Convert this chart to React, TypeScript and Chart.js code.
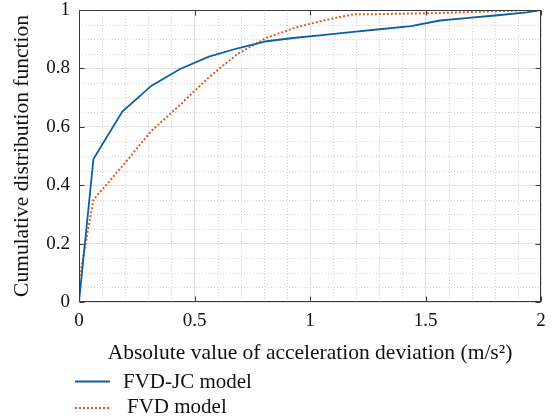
import React, { useEffect, useRef } from 'react';
import { Chart, registerables } from 'chart.js';

Chart.register(...registerables);

const FONT = '"Liberation Serif", "Times New Roman", serif';

// ---- data ----
const fvdJcX = [0, 0.0625, 0.1875, 0.3125, 0.4375, 0.5625, 0.6875, 0.8125, 0.9375, 1.0625, 1.1875, 1.3125, 1.4375, 1.5625, 1.6875, 1.8125, 1.9375, 2];
const fvdJcY = [0, 0.49, 0.652, 0.74, 0.798, 0.84, 0.869, 0.893, 0.905, 0.915, 0.925, 0.935, 0.945, 0.964, 0.973, 0.982, 0.992, 1.0];
const fvdX = [0, 0.0625, 0.1875, 0.3125, 0.4375, 0.5625, 0.6875, 0.8125, 0.9375, 1.0625, 1.1875, 1.3125, 1.4375, 1.5625, 1.6875, 1.8125, 1.9375];
const fvdY = [0.075, 0.35, 0.465, 0.585, 0.675, 0.77, 0.85, 0.905, 0.94, 0.965, 0.985, 0.986, 0.988, 0.99, 0.993, 0.996, 1.0];

const seriesLabels = ['FVD-JC model', 'FVD model'];
const xTitle = 'Absolute value of acceleration deviation (m/s\u00B2)';
const yTitle = 'Cumulative distribution function';
const xMajorStep = 0.5;
const yMajorStep = 0.2;
const xMinorStep = 0.1;
const yMinorStep = 0.05;

const BLUE = '#0f5f9e';
const RED = '#df5a23';

const fmt = (v: any) => String(Number(Number(v).toFixed(2)));

const framePlugin = {
  id: 'framePlugin',
  beforeDatasetsDraw(chart: any) {
    const { ctx, chartArea: a, scales } = chart;
    const xs = scales.x;
    const ys = scales.y;
    ctx.save();
    ctx.strokeStyle = '#d2d2d2';
    ctx.lineWidth = 1;
    ctx.setLineDash([1, 2]);
    const nx = Math.round((xs.max - xs.min) / xMinorStep);
    for (let i = 1; i < nx; i++) {
      const v = xs.min + i * xMinorStep;
      if (Math.abs(v / xMajorStep - Math.round(v / xMajorStep)) < 1e-6) continue;
      const px = Math.round(xs.getPixelForValue(v)) + 0.5;
      ctx.beginPath();
      ctx.moveTo(px, a.top);
      ctx.lineTo(px, a.bottom);
      ctx.stroke();
    }
    const ny = Math.round((ys.max - ys.min) / yMinorStep);
    for (let j = 1; j < ny; j++) {
      const v = ys.min + j * yMinorStep;
      if (Math.abs(v / yMajorStep - Math.round(v / yMajorStep)) < 1e-6) continue;
      const py = Math.round(ys.getPixelForValue(v)) + 0.5;
      ctx.beginPath();
      ctx.moveTo(a.left, py);
      ctx.lineTo(a.right, py);
      ctx.stroke();
    }
    ctx.restore();
  },
  afterDatasetsDraw(chart: any) {
    const { ctx, chartArea: a, scales } = chart;
    const xs = scales.x;
    const ys = scales.y;
    const l = Math.round(a.left) + 0.5;
    const r = Math.round(a.right) - 0.5;
    const t = Math.round(a.top) + 0.5;
    const b = Math.round(a.bottom) - 0.5;
    ctx.save();
    ctx.strokeStyle = '#3a3a3a';
    ctx.lineWidth = 1;
    ctx.setLineDash([]);
    ctx.strokeRect(l, t, r - l, b - t);
    const tl = 5;
    ctx.beginPath();
    xs.ticks.forEach((tk: any) => {
      const px = Math.round(xs.getPixelForValue(tk.value)) + 0.5;
      ctx.moveTo(px, b);
      ctx.lineTo(px, b - tl);
      ctx.moveTo(px, t);
      ctx.lineTo(px, t + tl);
    });
    ys.ticks.forEach((tk: any) => {
      const py = Math.round(ys.getPixelForValue(tk.value)) + 0.5;
      ctx.moveTo(l, py);
      ctx.lineTo(l + tl, py);
      ctx.moveTo(r, py);
      ctx.lineTo(r - tl, py);
    });
    ctx.stroke();
    ctx.restore();
  },
  afterDraw(chart: any) {
    const { ctx } = chart;
    const ds = chart.data.datasets;
    const rows = [
      { y: 381.5, textX: 123, base: 387.5 },
      { y: 408, textX: 127, base: 413 },
    ];
    ctx.save();
    ds.forEach((d: any, i: number) => {
      const row = rows[i];
      ctx.beginPath();
      ctx.strokeStyle = d.borderColor;
      ctx.lineWidth = d.borderWidth;
      ctx.setLineDash(d.borderDash || []);
      ctx.moveTo(75, row.y);
      ctx.lineTo(110, row.y);
      ctx.stroke();
      ctx.setLineDash([]);
      ctx.fillStyle = '#111';
      ctx.font = `21px ${FONT}`;
      ctx.textBaseline = 'alphabetic';
      ctx.textAlign = 'left';
      ctx.fillText(d.label, row.textX, row.base);
    });
    ctx.restore();
  },
};

export default function App() {
  const ref = useRef<HTMLCanvasElement>(null);
  useEffect(() => {
    if (!ref.current) return;
    const chart = new Chart(ref.current, {
      type: 'line',
      data: {
        datasets: [
          {
            label: seriesLabels[0],
            data: fvdJcX.map((x, i) => ({ x, y: fvdJcY[i] })),
            borderColor: BLUE,
            borderWidth: 1.8,
            pointRadius: 0,
            tension: 0,
            fill: false,
          },
          {
            label: seriesLabels[1],
            data: fvdX.map((x, i) => ({ x, y: fvdY[i] })),
            borderColor: RED,
            borderWidth: 2,
            borderDash: [2, 2],
            pointRadius: 0,
            tension: 0,
            fill: false,
          },
        ],
      },
      options: {
        responsive: false,
        animation: false,
        devicePixelRatio: 1,
        layout: { padding: { left: 0, right: 14, top: 10, bottom: 0 } },
        plugins: { legend: { display: false }, tooltip: { enabled: false } },
        scales: {
          x: {
            type: 'linear',
            min: 0,
            max: 2,
            ticks: { stepSize: xMajorStep, font: { family: FONT, size: 19 }, color: '#111', padding: 8, maxRotation: 0, callback: fmt },
            grid: { color: '#e2e2e2', drawTicks: false },
            border: { display: false },
            title: { display: true, text: xTitle, font: { family: FONT, size: 21.5 }, color: '#111', padding: { top: 0, bottom: 53 } },
            afterFit: (s: any) => {
              s.height = 117;
              s.paddingLeft = 0;
              s.paddingRight = 0;
            },
          },
          y: {
            type: 'linear',
            min: 0,
            max: 1,
            ticks: { stepSize: yMajorStep, font: { family: FONT, size: 19 }, color: '#111', padding: 9, callback: fmt },
            grid: { color: '#e2e2e2', drawTicks: false },
            border: { display: false },
            title: { display: true, text: yTitle, font: { family: FONT, size: 21.5 }, color: '#111', padding: { top: 9, bottom: 0 } },
            afterFit: (s: any) => {
              s.width = 79;
              s.paddingTop = 0;
              s.paddingBottom = 0;
            },
          },
        },
      },
      plugins: [framePlugin],
    });
    return () => chart.destroy();
  }, []);
  return (
    <div style={{ position: 'absolute', left: 0, top: 0, width: 555, height: 419, background: '#fff' }}>
      <canvas ref={ref} width={555} height={419} style={{ display: 'block' }} />
    </div>
  );
}
